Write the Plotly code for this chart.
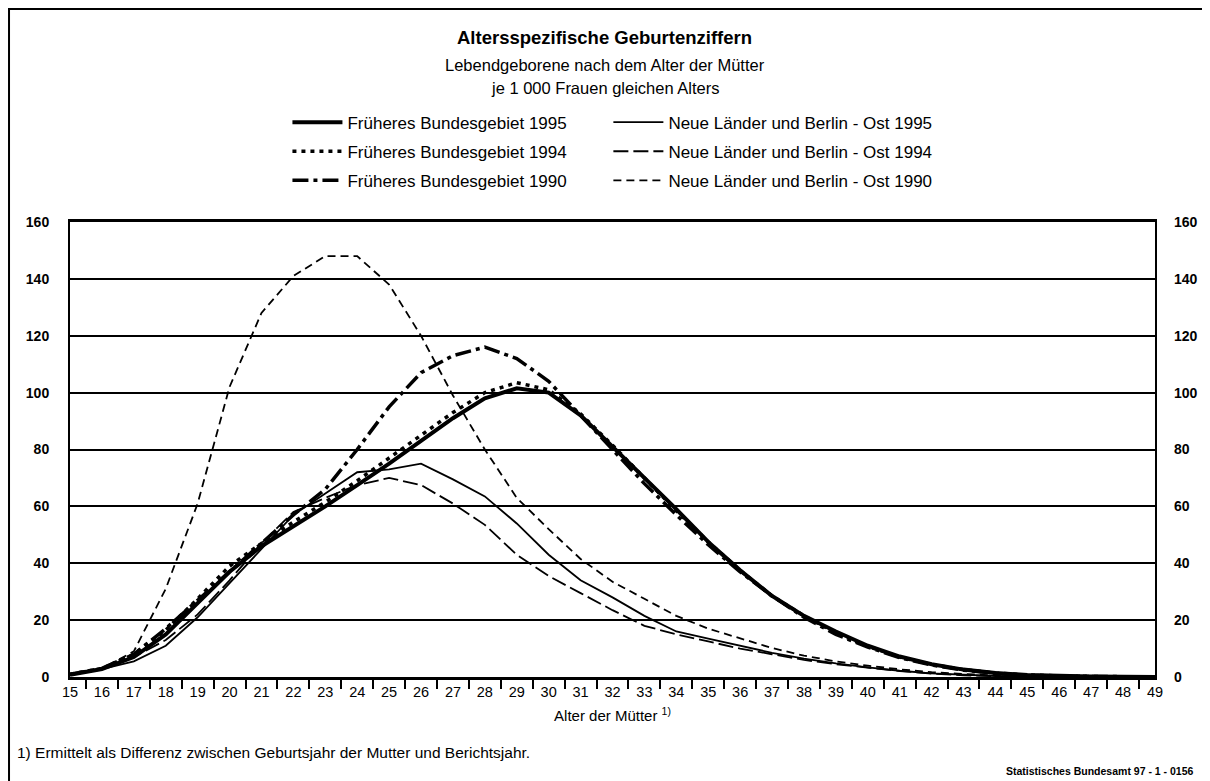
import plotly.graph_objects as go

ages = [str(a) for a in range(15, 50)]

fb_1995 = [0.8, 2.8, 7, 15, 26, 37, 46, 53, 60, 67.5, 75, 83, 91, 98, 101.5, 100, 92, 81, 70, 59,
           47.5, 37.5, 28.5, 21.5, 16, 11, 7.2, 4.5, 2.6, 1.4, 0.7, 0.35, 0.15, 0.08, 0.04]
fb_1994 = [1, 3, 8, 16.5, 27.5, 39, 47, 54.5, 61.5, 69, 77, 85, 93, 100, 103.5, 101, 92.5, 81.5, 70, 58.5,
           47.5, 37.5, 28.5, 21.5, 15.5, 10.8, 7, 4.4, 2.6, 1.4, 0.7, 0.35, 0.15, 0.08, 0.04]
fb_1990 = [1, 3, 8, 17, 27, 37, 47, 57, 66, 80, 95, 107, 113, 116, 112, 104, 92, 80, 68, 57,
           46.5, 37, 28.5, 21, 15, 10.5, 6.8, 4.2, 2.4, 1.3, 0.6, 0.3, 0.15, 0.07, 0.03]
nl_1995 = [0.7, 2.8, 5.5, 11, 21, 33, 45, 57, 64.5, 72, 73, 75, 69.5, 63.5, 54, 43, 34, 28, 21.5, 16,
           13.5, 11, 8.5, 6.5, 4.8, 3.4, 2.2, 1.3, 0.7, 0.35, 0.15, 0.07, 0.03, 0.01, 0.01]
nl_1994 = [0.8, 3, 7, 13, 22, 34, 47, 58, 63, 67.5, 70, 67.5, 61, 53.5, 43, 35.5, 29.5, 23.5, 18, 15,
           12.5, 10, 8, 6, 4.5, 3.2, 2.1, 1.2, 0.6, 0.3, 0.12, 0.05, 0.02, 0.01, 0.01]
nl_1990 = [1, 3, 9, 31, 61, 102, 128, 141, 148, 148, 138, 120, 99, 80, 63, 52, 41.5, 33.5, 27.5, 21.5,
           17, 13.5, 10.2, 7.5, 5.5, 4, 2.7, 1.7, 1, 0.5, 0.25, 0.1, 0.05, 0.02, 0.01]

y_ticks = [0, 20, 40, 60, 80, 100, 120, 140, 160]

FONT = "Arial, Liberation Sans, sans-serif"

series = [
    ("Früheres Bundesgebiet 1995", fb_1995, dict(width=4, dash="solid"), "legend"),
    ("Früheres Bundesgebiet 1994", fb_1994, dict(width=3.5, dash="4px,5px"), "legend"),
    ("Früheres Bundesgebiet 1990", fb_1990, dict(width=3.5, dash="16px,5px,4px,5px"), "legend"),
    ("Neue Länder und Berlin - Ost 1995", nl_1995, dict(width=1.8, dash="solid"), "legend2"),
    ("Neue Länder und Berlin - Ost 1994", nl_1994, dict(width=1.8, dash="15px,5px"), "legend2"),
    ("Neue Länder und Berlin - Ost 1990", nl_1990, dict(width=1.8, dash="8px,5px"), "legend2"),
]

fig = go.Figure()
for i, (name, vals, ln, lg) in enumerate(series):
    fig.add_trace(go.Scatter(
        x=ages, y=vals, mode="lines", name=name,
        line=dict(color="black", **ln),
        legend=lg, legendgroup=f"g{i}",
    ))

# invisible trace to activate the right-hand axis
fig.add_trace(go.Scatter(x=ages, y=fb_1995, yaxis="y2", mode="lines",
                         line=dict(color="rgba(0,0,0,0)"), showlegend=False, hoverinfo="skip"))

fig.update_layout(
    width=1210, height=781,
    margin=dict(l=62, r=63, t=214, b=112),
    paper_bgcolor="white", plot_bgcolor="white",
    font=dict(family=FONT, color="black"),
    xaxis=dict(
        type="category", tickson="boundaries", ticks="outside", ticklen=9, tickwidth=1.5,
        tickcolor="black", showline=True, linecolor="black", linewidth=2.5, mirror=True,
        showgrid=False, tickfont=dict(size=14.5),
        title=dict(text="Alter der Mütter <sup>1)</sup>", font=dict(size=15), standoff=12),
    ),
    yaxis=dict(
        range=[0, 160], tickvals=y_ticks, showgrid=True, gridcolor="black", gridwidth=1.5,
        showline=True, linecolor="black", linewidth=2, mirror=True, zeroline=False,
        ticks="", tickfont=dict(size=14, weight="bold"), ticklabelstandoff=16,
    ),
    yaxis2=dict(
        range=[0, 160], tickvals=y_ticks, overlaying="y", side="right", showgrid=False,
        zeroline=False, showline=False, ticks="", tickfont=dict(size=14, weight="bold"),
        ticklabelstandoff=18,
    ),
    legend=dict(x=0.2004, xanchor="left", y=1.258, yanchor="top", orientation="v",
                font=dict(size=17), itemwidth=50, tracegroupgap=4, bgcolor="rgba(0,0,0,0)"),
    legend2=dict(x=0.4962, xanchor="left", y=1.258, yanchor="top", orientation="v",
                 font=dict(size=17), itemwidth=50, tracegroupgap=4, bgcolor="rgba(0,0,0,0)"),
    showlegend=True,
)

fig.add_annotation(text="<b>Altersspezifische Geburtenziffern</b>", xref="paper", yref="paper",
                   x=0.493, y=1.4044, xanchor="center", yanchor="middle", showarrow=False,
                   font=dict(size=18.5))
fig.add_annotation(text="Lebendgeborene nach dem Alter der Mütter", xref="paper", yref="paper",
                   x=0.493, y=1.345, xanchor="center", yanchor="middle", showarrow=False,
                   font=dict(size=16.5))
fig.add_annotation(text="je 1 000 Frauen gleichen Alters", xref="paper", yref="paper",
                   x=0.493, y=1.2945, xanchor="center", yanchor="middle", showarrow=False,
                   font=dict(size=16.5))
fig.add_annotation(text="1) Ermittelt als Differenz zwischen Geburtsjahr der Mutter und Berichtsjahr.",
                   xref="paper", yref="paper", x=-0.0507, y=-0.167, xanchor="left", yanchor="middle",
                   showarrow=False, font=dict(size=15.5))
fig.add_annotation(text="<b>Statistisches Bundesamt 97 - 1 - 0156</b>",
                   xref="paper", yref="paper", x=1.0369, y=-0.2066, xanchor="right", yanchor="middle",
                   showarrow=False, font=dict(size=10.5))

# outer frame of the figure
fig.add_shape(type="rect", xref="paper", yref="paper", x0=-0.0562, x1=1.08, y0=-0.3, y1=1.468,
              line=dict(color="black", width=2), layer="below")

fig.write_html("out.html")
